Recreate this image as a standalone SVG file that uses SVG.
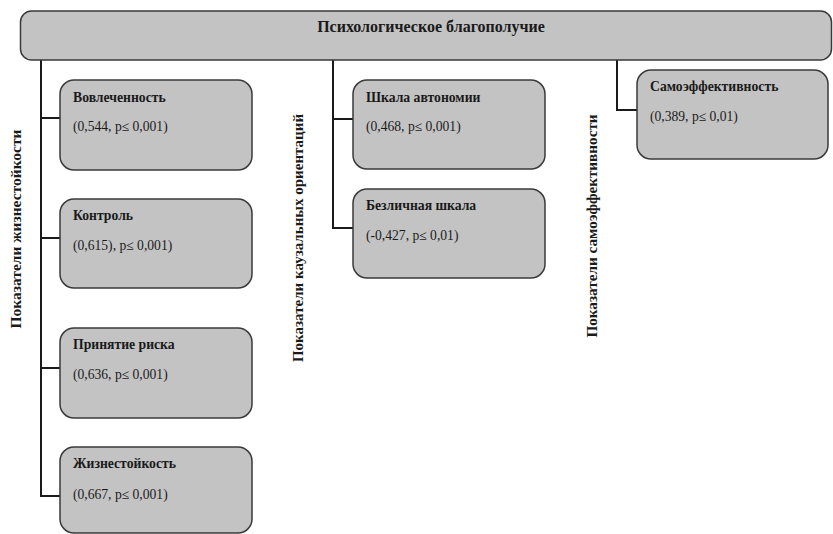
<svg xmlns="http://www.w3.org/2000/svg" width="833" height="534" viewBox="0 0 833 534">
<style>
.box{fill:#c3c3c3;stroke:#3a3a3a;stroke-width:1.5}
.t{font-family:"Liberation Serif","DejaVu Serif",serif;font-weight:bold;font-size:13.7px;fill:#1a1a1a}
.v{font-family:"Liberation Serif","DejaVu Serif",serif;font-size:13.6px;fill:#1a1a1a}
.h{font-family:"Liberation Serif","DejaVu Serif",serif;font-weight:bold;font-size:15px;fill:#1a1a1a}
.c{fill:none;stroke:#1a1a1a;stroke-width:2}
</style>
<rect width="833" height="534" fill="#ffffff"/>
<g id="connectors">
<polyline class="c" points="41,60 41,496 60,496"/>
<line class="c" x1="41" y1="118" x2="60" y2="118"/>
<line class="c" x1="41" y1="238" x2="60" y2="238"/>
<line class="c" x1="41" y1="368" x2="60" y2="368"/>
<polyline class="c" points="333,60 333,228 353,228"/>
<line class="c" x1="333" y1="119" x2="353" y2="119"/>
<polyline class="c" points="617,60 617,110 637,110"/>
</g>
<g id="root">
<rect class="box" x="20.5" y="11" width="811" height="49" rx="11"/>
<text class="h" x="431" y="32" text-anchor="middle" style="font-size:16px">Психологическое благополучие</text>
</g>
<g id="label-hardiness">
<text class="h" transform="translate(21,229) rotate(-90)" text-anchor="middle" style="font-size:15.5px">Показатели жизнестойкости</text>
</g>
<g id="label-causal">
<text class="h" transform="translate(303,238) rotate(-90)" text-anchor="middle">Показатели каузальных ориентаций</text>
</g>
<g id="label-selfeff">
<text class="h" transform="translate(597,226) rotate(-90)" text-anchor="middle" style="font-size:15.2px">Показатели самоэффективности</text>
</g>
<g id="n-involvement">
<rect class="box" x="60" y="80" width="192" height="90" rx="14"/>
<text class="t" x="73" y="102">Вовлеченность</text>
<text class="v" x="73" y="131">(0,544, p≤ 0,001)</text>
</g>
<g id="n-control">
<rect class="box" x="60" y="199" width="192" height="89" rx="14"/>
<text class="t" x="73" y="220">Контроль</text>
<text class="v" x="73" y="250">(0,615), p≤ 0,001)</text>
</g>
<g id="n-risk">
<rect class="box" x="60" y="328" width="192" height="90" rx="14"/>
<text class="t" x="73" y="349">Принятие риска</text>
<text class="v" x="73" y="379">(0,636, p≤ 0,001)</text>
</g>
<g id="n-hardiness">
<rect class="box" x="60" y="447" width="192" height="86" rx="14"/>
<text class="t" x="73" y="468">Жизнестойкость</text>
<text class="v" x="73" y="499">(0,667, p≤ 0,001)</text>
</g>
<g id="n-autonomy">
<rect class="box" x="353" y="80" width="192" height="89" rx="14"/>
<text class="t" x="366" y="102">Шкала автономии</text>
<text class="v" x="366" y="131">(0,468, p≤ 0,001)</text>
</g>
<g id="n-impersonal">
<rect class="box" x="353" y="189" width="192" height="89" rx="14"/>
<text class="t" x="366" y="210">Безличная шкала</text>
<text class="v" x="366" y="240">(-0,427, p≤ 0,01)</text>
</g>
<g id="n-selfefficacy">
<rect class="box" x="637" y="70" width="191" height="89" rx="14"/>
<text class="t" x="650" y="91">Самоэффективность</text>
<text class="v" x="650" y="121">(0,389, p≤ 0,01)</text>
</g>
</svg>
